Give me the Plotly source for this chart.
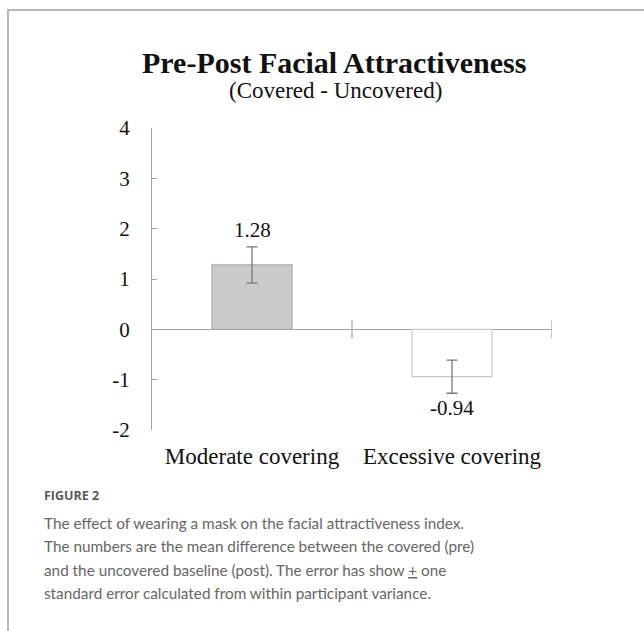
import numpy as np
import plotly.graph_objects as go

# ---- data ----
categories = ["Moderate covering", "Excessive covering"]
means = [1.28, -0.94]
std_errors = [0.36, 0.33]
value_labels = ["1.28", "-0.94"]
y_ticks = [-2, -1, 0, 1, 2, 3, 4]
y_tick_labels = ["-2", "-1", "0", "1", "2", "3", "4"]

title_text = "<b>Pre-Post Facial Attractiveness</b>"
subtitle_text = "(Covered - Uncovered)"
figure_label = "FIGURE 2"
caption_lines = [
    "The effect of wearing a mask on the facial attractiveness index.",
    "The numbers are the mean difference between the covered (pre)",
    "and the uncovered baseline (post). The error has show <u>+</u> one",
    "standard error calculated from within participant variance.",
]

# ---- layout geometry (pixels) ----
W, H = 644, 631
ML, MR, MT, MB = 152, 92, 128, 201
PW, PH = W - ML - MR, H - MT - MB


def px_x(px):
    return (px - ML) / PW


def px_y(py):
    return (H - MB - py) / PH


SERIF = "Liberation Serif, Times New Roman, serif"
SANS = "Lato, Open Sans, sans-serif"
AXIS_GREY = "#a3a3a3"

x_idx = np.arange(len(categories))

fig = go.Figure()
fig.add_trace(go.Bar(
    x=x_idx, y=means, width=0.4,
    marker=dict(color=["#cdcaca", "#ffffff"],
                line=dict(color=["#a9a7a7", "#c6c6c6"], width=1.2)),
    error_y=dict(type="data", array=std_errors, visible=True,
                 color="#777777", thickness=1.3, width=5.5),
    showlegend=False, hoverinfo="skip",
))
# category boundary ticks on the zero line
fig.add_trace(go.Scatter(
    x=x_idx + 0.5, y=[0] * len(categories), mode="markers",
    marker=dict(symbol="line-ns", size=13, line=dict(color=AXIS_GREY, width=1.2)),
    showlegend=False, hoverinfo="skip",
))

annotations = []
for i, (m, e, lab) in enumerate(zip(means, std_errors, value_labels)):
    pos = m >= 0
    annotations.append(dict(
        x=i, y=m + (e if pos else -e), xref="x", yref="y", text=lab,
        showarrow=False, font=dict(family=SERIF, size=21, color="#111"),
        yanchor="bottom" if pos else "top", yshift=3 if pos else -1,
    ))

annotations += [
    dict(x=px_x(334), y=px_y(63), xref="paper", yref="paper", text=title_text,
         showarrow=False, font=dict(family=SERIF, size=30, color="#111"),
         xanchor="center", yanchor="middle"),
    dict(x=px_x(335), y=px_y(91), xref="paper", yref="paper", text=subtitle_text,
         showarrow=False, font=dict(family=SERIF, size=23, color="#111"),
         xanchor="center", yanchor="middle"),
    dict(x=px_x(42), y=px_y(495), xref="paper", yref="paper", text="<b>" + figure_label + "</b>",
         showarrow=False, font=dict(family="Open Sans, sans-serif", size=12.5, color="#5a5a5a"),
         xanchor="left", yanchor="middle"),
]
for k, line in enumerate(caption_lines):
    annotations.append(dict(
        x=px_x(42), y=px_y(523 + 23.3 * k), xref="paper", yref="paper", text=line,
        showarrow=False, font=dict(family=SANS, size=15.3, color="#666666"),
        xanchor="left", yanchor="middle"))

shapes = [
    dict(type="line", xref="paper", yref="paper",
         x0=px_x(8), x1=px_x(8), y0=px_y(10), y1=px_y(H + 5),
         line=dict(color="#b8b8b8", width=2)),
    dict(type="line", xref="paper", yref="paper",
         x0=px_x(7), x1=px_x(W + 5), y0=px_y(10), y1=px_y(10),
         line=dict(color="#b8b8b8", width=2)),
]

fig.update_layout(
    width=W, height=H, autosize=False,
    margin=dict(l=ML, r=MR, t=MT, b=MB),
    paper_bgcolor="white", plot_bgcolor="white",
    annotations=annotations, shapes=shapes,
    xaxis=dict(range=[-0.5, len(categories) - 0.5], tickvals=x_idx, ticktext=categories,
               showline=False, ticks="", showgrid=False, zeroline=False,
               ticklabelstandoff=10,
               tickfont=dict(family=SERIF, size=23, color="#111")),
    yaxis=dict(range=[min(y_ticks), max(y_ticks)], tickvals=y_ticks, ticktext=y_tick_labels,
               showline=True, linecolor=AXIS_GREY, linewidth=1.2,
               ticks="inside", ticklen=5, tickcolor=AXIS_GREY, tickwidth=1.2,
               zeroline=True, zerolinecolor=AXIS_GREY, zerolinewidth=1.2,
               showgrid=False, ticklabelstandoff=17,
               tickfont=dict(family=SERIF, size=21, color="#111")),
)

fig.write_html(
    "out.html",
    config={"displayModeBar": False},
    post_script="document.body.style.margin='0px';document.body.style.overflow='hidden';",
)
